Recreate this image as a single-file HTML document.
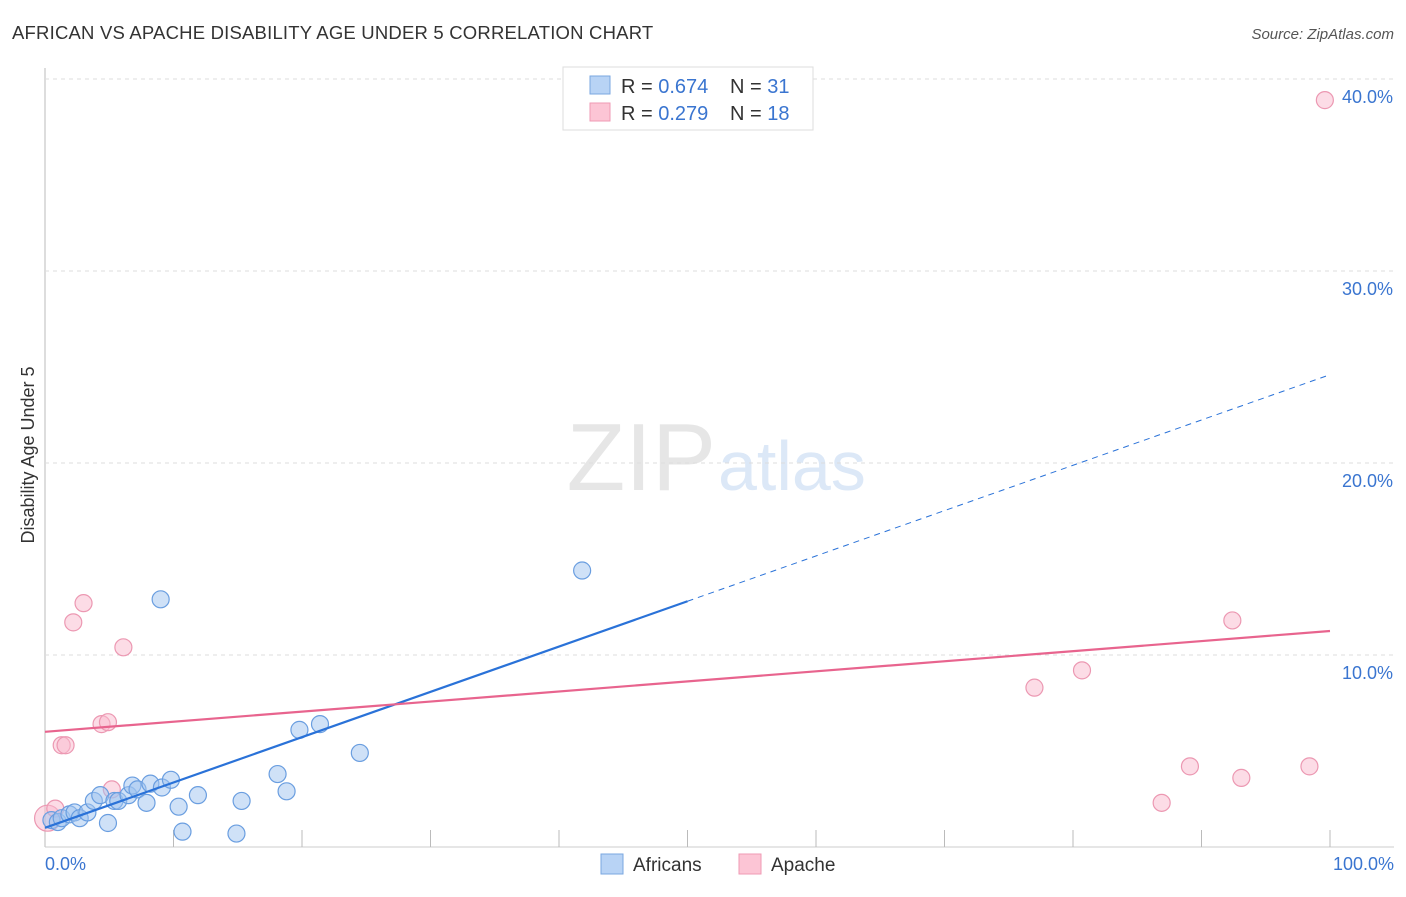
<!DOCTYPE html>
<html><head><meta charset="utf-8"><style>
body{margin:0;background:#fff;font-family:"Liberation Sans",sans-serif;}
svg text{font-family:"Liberation Sans",sans-serif;}
</style></head><body>
<svg id="chart" width="1406" height="892" xmlns="http://www.w3.org/2000/svg">
<text x="12" y="39" font-size="18.5" letter-spacing="0.2" fill="#333">AFRICAN VS APACHE DISABILITY AGE UNDER 5 CORRELATION CHART</text>
<text x="1394" y="39" font-size="15" fill="#555" font-style="italic" text-anchor="end">Source: ZipAtlas.com</text>
<text x="716" y="490" font-size="96" fill="#e6e6e6" text-anchor="end" font-family="Liberation Serif">ZIP</text>
<text x="718" y="490" font-size="70" fill="#dce8f7">atlas</text>
<text transform="translate(34,455) rotate(-90)" font-size="18" fill="#333" text-anchor="middle">Disability Age Under 5</text>
<g id="grid"></g><g id="marks"></g>
<g>
<rect x="563" y="67" width="250" height="63" fill="#fff" stroke="#ddd"/>
<rect x="590" y="76" width="20" height="18" fill="#b8d3f5" stroke="#7aa7e0"/>
<rect x="590" y="103" width="20" height="18" fill="#fcc5d5" stroke="#ef9ab4"/>
<text x="621" y="93" font-size="20" fill="#333">R = <tspan fill="#3a75d0">0.674</tspan></text>
<text x="730" y="93" font-size="20" fill="#333">N = <tspan fill="#3a75d0">31</tspan></text>
<text x="621" y="120" font-size="20" fill="#333">R = <tspan fill="#3a75d0">0.279</tspan></text>
<text x="730" y="120" font-size="20" fill="#333">N = <tspan fill="#3a75d0">18</tspan></text>
</g>
<g>
<rect x="601" y="854" width="22" height="20" fill="#b8d3f5" stroke="#7aa7e0"/>
<text x="633" y="871" font-size="19" fill="#333">Africans</text>
<rect x="739" y="854" width="22" height="20" fill="#fcc5d5" stroke="#ef9ab4"/>
<text x="771" y="871" font-size="19" fill="#333">Apache</text>
</g>
</svg>
<script>
const blueX=[0.5,1.0,1.3,1.9,2.3,2.7,3.3,3.8,4.3,4.9,5.4,5.7,6.5,6.8,7.2,7.9,8.2,9.0,9.1,9.8,10.4,10.7,11.9,14.9,15.3,18.1,18.8,19.8,21.4,24.5,41.8];
const blueY=[1.4,1.3,1.5,1.7,1.8,1.5,1.8,2.4,2.7,1.25,2.4,2.4,2.7,3.2,3.0,2.3,3.3,12.9,3.1,3.5,2.1,0.8,2.7,0.7,2.4,3.8,2.9,6.1,6.4,4.9,14.4];
const pinkX=[0.2,0.8,1.3,1.6,2.2,3.0,4.4,4.9,5.2,6.1,77.0,80.7,86.9,89.1,92.4,93.1,98.4,99.6];
const pinkY=[1.5,2.0,5.3,5.3,11.7,12.7,6.4,6.5,3.0,10.4,8.3,9.2,2.3,4.2,11.8,3.6,4.2,38.9];
const blueTrend=[1.0,24.6];
const pinkTrend=[6.0,11.25];
const yTicks=[10,20,30,40];
const yTickLabels=["10.0%","20.0%","30.0%","40.0%"];
const xTickLabels=["0.0%","100.0%"];
const X=v=>45+v*12.85, Y=v=>847-v*19.2;
const NS="http://www.w3.org/2000/svg";
const grid=document.getElementById('grid'), marks=document.getElementById('marks');
function mk(tag,attrs,parent){const e=document.createElementNS(NS,tag);for(const k in attrs)e.setAttribute(k,attrs[k]);parent.appendChild(e);return e;}
let ax=mk('line',{x1:45,y1:68,x2:45,y2:847,stroke:'#bbb'},grid);


let bx=mk('line',{x1:45,y1:847,x2:1394,y2:847,stroke:'#ccc'},grid);


yTicks.forEach((t,i)=>{
 let l=mk('line',{x1:45,y1:Y(t),x2:1394,y2:Y(t),stroke:'#ddd','stroke-dasharray':'4,4'},grid);
 
 
 let tx=mk('text',{x:1393,y:Y(t)+24,'font-size':18,fill:'#3a75d0','text-anchor':'end'},grid);
 tx.textContent=yTickLabels[i];
 
 
});
for(let i=1;i<=10;i++){
 let l=mk('line',{x1:X(i*10),y1:830,x2:X(i*10),y2:847,stroke:'#bbb'},grid);
 
 
}
[[0,'start',45],[100,'end',1394]].forEach((d,i)=>{
 let tx=mk('text',{x:d[2],y:870,'font-size':18,fill:'#3a75d0','text-anchor':d[1]},grid);
 tx.textContent=xTickLabels[i];
 
 
});
pinkX.forEach((x,i)=>{
 let c=mk('circle',{cx:X(x),cy:Y(pinkY[i]),r:i===0?13:8.5,fill:'rgba(250,185,205,0.5)',stroke:'#ec98b2','stroke-width':1.2},marks);
 
 
});
blueX.forEach((x,i)=>{
 let c=mk('circle',{cx:X(x),cy:Y(blueY[i]),r:8.5,fill:'rgba(160,196,240,0.5)',stroke:'#6a9ee0','stroke-width':1.2},marks);
 
 
});
const by=x=>blueTrend[0]+(blueTrend[1]-blueTrend[0])*x/100;
let b1=mk('line',{x1:X(0),y1:Y(by(0)),x2:X(50),y2:Y(by(50)),stroke:'#2a72d8','stroke-width':2.2},marks);


let b2=mk('line',{x1:X(50),y1:Y(by(50)),x2:X(100),y2:Y(by(100)),stroke:'#2a72d8','stroke-width':1,'stroke-dasharray':'6,5'},marks);


let p1=mk('line',{x1:X(0),y1:Y(pinkTrend[0]),x2:X(100),y2:Y(pinkTrend[1]),stroke:'#e8648e','stroke-width':2.2},marks);


</script>
</body></html>
